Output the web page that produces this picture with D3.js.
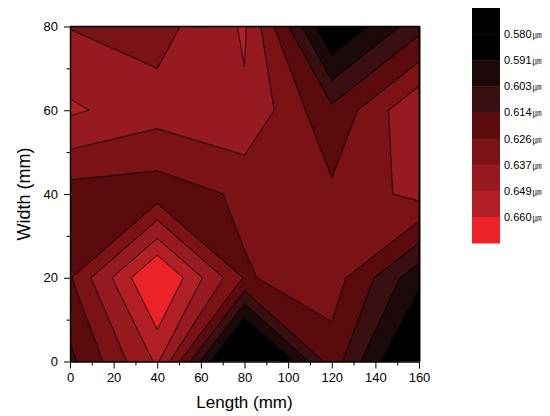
<!DOCTYPE html>
<html>
<head>
<meta charset="utf-8">
<script src="https://cdn.jsdelivr.net/npm/d3@7"></script>
<style>
  body { margin: 0; background: #fff; }
  svg { display: block; }
</style>
</head>
<body>
<svg id="chart" width="550" height="416"></svg>
<script>
// Measurement grid: length positions (mm) and width positions (mm)
const lengths = [0, 40, 80, 120, 160];
const widths = [0, 20, 40, 60, 80];

// Thickness (µm) measured along each width row, ordered by length
const rowW0  = [0.611, 0.6509, 0.5536, 0.6205, 0.568];
const rowW20 = [0.625, 0.6748, 0.625, 0.632, 0.5949];
const rowW40 = [0.621, 0.6199, 0.628, 0.6282, 0.6408];
const rowW60 = [0.651, 0.6418, 0.6474, 0.6168, 0.6478];
const rowW80 = [0.6365, 0.6322, 0.6505, 0.578, 0.610];

// Contour levels and their legend labels
const levels = [0.580, 0.591, 0.603, 0.614, 0.626, 0.637, 0.649, 0.660];
const levelLabels = ["0.580", "0.591", "0.603", "0.614", "0.626", "0.637", "0.649", "0.660"];
const levelUnit = "㎛";

// Fill for each band: below the first level, between levels, above the last
const bandColors = ["#000000", "#000000", "#1c0909", "#3a0f11", "#5b0a0d",
                    "#7a1216", "#961a20", "#b31f26", "#ed2226"];

const xTicks = [0, 20, 40, 60, 80, 100, 120, 140, 160];
const xMinorTicks = [10, 30, 50, 70, 90, 110, 130, 150];
const yTicks = [0, 20, 40, 60, 80];
const yMinorTicks = [10, 30, 50, 70];

const svg = d3.select("#chart");
const font = "'Liberation Sans', Arial, sans-serif";

const plot = { left: 70, right: 419, top: 26.5, bottom: 361.5 };
const x = d3.scaleLinear().domain([0, 160]).range([plot.left, plot.right]);
const y = d3.scaleLinear().domain([0, 80]).range([plot.bottom, plot.top]);

// Grid for d3.contours: row-major, first row is the top (largest width)
const nx = lengths.length, ny = widths.length;
const rowsTopDown = [rowW80, rowW60, rowW40, rowW20, rowW0];
const grid = rowsTopDown.flat();

// Sample i sits at grid coordinate i + 0.5
const gx = d3.scaleLinear().domain([0.5, nx - 0.5]).range([x(lengths[0]), x(lengths[nx - 1])]);
const gy = d3.scaleLinear().domain([0.5, ny - 0.5]).range([y(widths[ny - 1]), y(widths[0])]);
const path = d3.geoPath(d3.geoTransform({
  point(px, py) { this.stream.point(gx(px), gy(py)); }
}));

const defs = svg.append("defs");
defs.append("clipPath").attr("id", "plotClip")
  .append("rect")
  .attr("x", plot.left).attr("y", plot.top)
  .attr("width", plot.right - plot.left).attr("height", plot.bottom - plot.top);

const contours = d3.contours().size([nx, ny]).thresholds([0, ...levels])(grid);

const g = svg.append("g").attr("clip-path", "url(#plotClip)");
g.selectAll("path.band")
  .data(contours)
  .join("path")
  .attr("class", "band")
  .attr("d", path)
  .attr("fill", (d, i) => bandColors[i])
  .attr("stroke", (d, i) => i === 0 ? "none" : "#000")
  .attr("stroke-width", 0.8)
  .attr("stroke-linejoin", "round");

// Frame on the top and right
svg.append("line")
  .attr("x1", plot.left).attr("x2", plot.right + 1)
  .attr("y1", plot.top).attr("y2", plot.top)
  .attr("stroke", "#000").attr("stroke-width", 1.4);
svg.append("line")
  .attr("x1", plot.right + 0.5).attr("x2", plot.right + 0.5)
  .attr("y1", plot.top).attr("y2", plot.bottom)
  .attr("stroke", "#000").attr("stroke-width", 2);

// Axes
function styleAxis(sel) {
  sel.selectAll("path.domain").attr("stroke", "#000").attr("stroke-width", 1.4);
  sel.selectAll(".tick line").attr("stroke", "#000").attr("stroke-width", 1);
  sel.selectAll(".tick text").attr("font-family", font).attr("font-size", 13).attr("fill", "#000");
}

const xAxis = svg.append("g").attr("transform", `translate(0,${plot.bottom})`)
  .call(d3.axisBottom(x).tickValues(xTicks).tickSize(7).tickSizeOuter(0).tickPadding(4).tickFormat(d3.format("d")));
styleAxis(xAxis);
const xMinor = svg.append("g").attr("transform", `translate(0,${plot.bottom})`)
  .call(d3.axisBottom(x).tickValues(xMinorTicks).tickSize(4).tickSizeOuter(0).tickFormat(""));
xMinor.select("path.domain").remove();
styleAxis(xMinor);

const yAxis = svg.append("g").attr("transform", `translate(${plot.left},0)`)
  .call(d3.axisLeft(y).tickValues(yTicks).tickSize(6).tickSizeOuter(0).tickPadding(6).tickFormat(d3.format("d")));
styleAxis(yAxis);
const yMinor = svg.append("g").attr("transform", `translate(${plot.left},0)`)
  .call(d3.axisLeft(y).tickValues(yMinorTicks).tickSize(3.5).tickSizeOuter(0).tickFormat(""));
yMinor.select("path.domain").remove();
styleAxis(yMinor);

// Axis titles
svg.append("text")
  .attr("x", (plot.left + plot.right) / 2).attr("y", 408)
  .attr("text-anchor", "middle")
  .attr("font-family", font).attr("font-size", 17).attr("fill", "#000")
  .text("Length (mm)");
svg.append("text")
  .attr("transform", `translate(30,${(plot.top + plot.bottom) / 2}) rotate(-90)`)
  .attr("text-anchor", "middle")
  .attr("font-family", font).attr("font-size", 18).attr("fill", "#000")
  .text("Width (mm)");

// Colour legend: black (low) at the top, bright red (high) at the bottom
const legend = { x: 472, top: 8, bottom: 243, w: 28 };
const ly = d3.scaleBand().domain(d3.range(bandColors.length)).range([legend.top, legend.bottom]).paddingInner(0);
const lg = svg.append("g");
lg.selectAll("rect")
  .data(bandColors)
  .join("rect")
  .attr("x", legend.x)
  .attr("y", (d, i) => ly(i))
  .attr("width", legend.w)
  .attr("height", ly.bandwidth() + 0.5)
  .attr("fill", d => d);

const labels = lg.selectAll("text")
  .data(levels)
  .join("text")
  .attr("x", legend.x + legend.w + 4)
  .attr("y", (d, i) => ly(i + 1) + 4)
  .attr("font-family", font).attr("font-size", 11).attr("fill", "#000");
labels.append("tspan").text((d, i) => levelLabels[i]);
labels.append("tspan")
  .attr("dx", 1)
  .attr("font-family", "'Noto Sans CJK KR', sans-serif")
  .attr("font-size", 9)
  .attr("fill", "#333")
  .text(levelUnit);
</script>
</body>
</html>
